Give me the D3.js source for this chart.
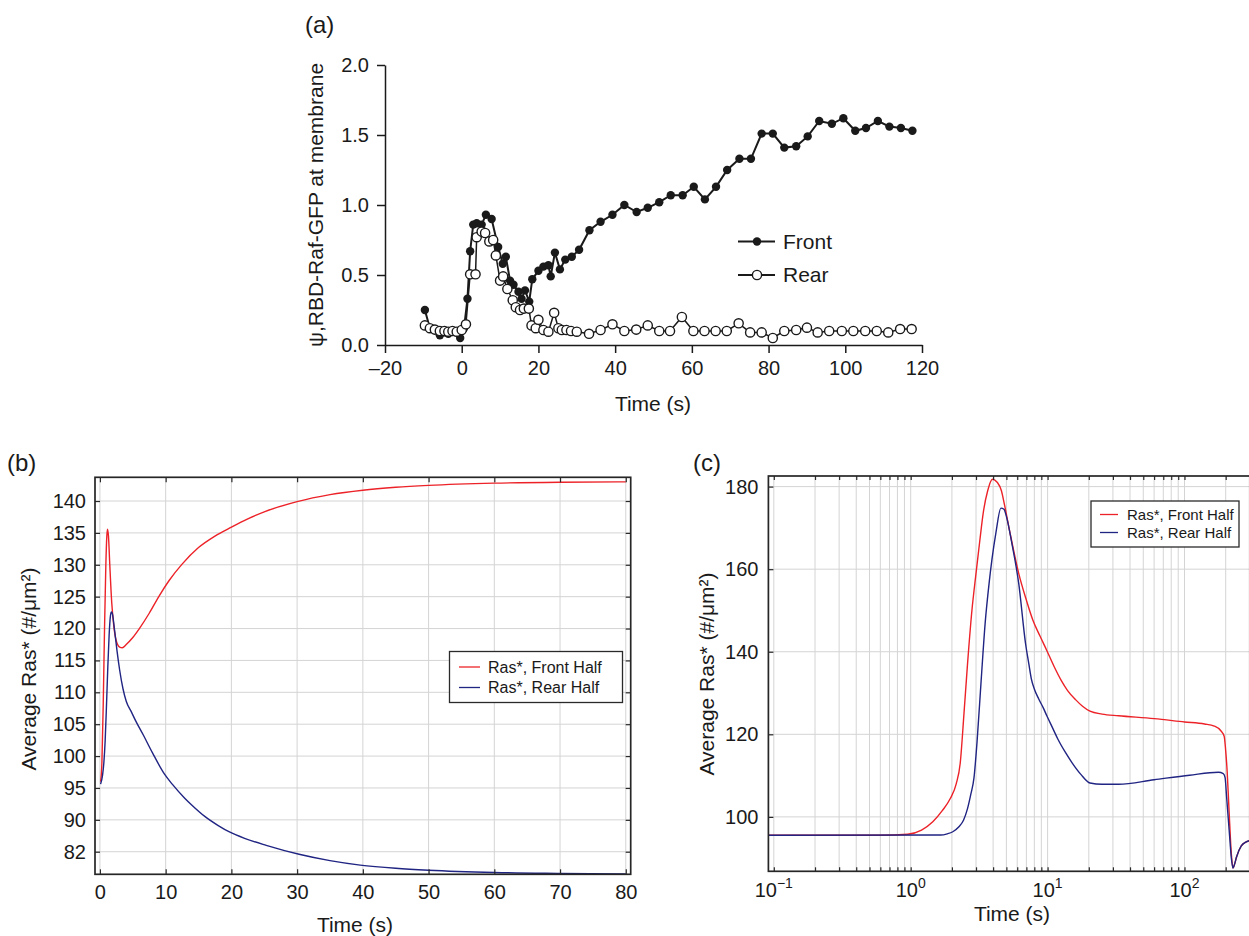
<!DOCTYPE html>
<html>
<head>
<meta charset="utf-8">
<script src="https://cdn.jsdelivr.net/npm/d3@7"></script>
<style>
  body { margin: 0; background: #fff; }
  svg { display: block; font-family: 'Liberation Sans', Arial, Helvetica, sans-serif; }
</style>
</head>
<body>
<div id="fig"></div>
<script>
// ---------- panel (a): RBD-Raf-GFP at membrane ----------
const frontTime = [-9.6, -8.3, -7.0, -5.7, -4.5, -3.5, -2.4, -1.3, -0.4, 0.6, 1.5, 2.2, 3.0, 3.9, 5.2, 6.3, 7.8, 9.5, 10.7, 11.5,
  12.6, 13.5, 14.8, 15.6, 16.5, 17.6, 18.4, 20.0, 21.3, 22.6, 23.2, 24.3, 25.6, 27.0, 28.7, 30.6, 33.3, 36.2, 39.3, 42.4,
  45.6, 48.5, 51.5, 54.5, 57.6, 60.5, 63.4, 66.3, 69.2, 72.4, 75.4, 78.2, 81.1, 84.1, 87.2, 90.2, 93.2, 96.5, 99.5, 102.6,
  105.4, 108.5, 111.5, 114.5, 117.5];
const frontValue = [0.25, 0.12, 0.11, 0.07, 0.09, 0.08, 0.10, 0.09, 0.05, 0.12, 0.33, 0.67, 0.86, 0.87, 0.86, 0.93, 0.90, 0.70, 0.58, 0.63,
  0.46, 0.43, 0.38, 0.33, 0.39, 0.31, 0.47, 0.53, 0.56, 0.57, 0.49, 0.66, 0.54, 0.61, 0.63, 0.68, 0.82, 0.88, 0.93, 1.00,
  0.95, 0.98, 1.02, 1.07, 1.07, 1.13, 1.04, 1.13, 1.25, 1.33, 1.33, 1.51, 1.51, 1.41, 1.42, 1.49, 1.60, 1.58, 1.62, 1.53,
  1.55, 1.60, 1.56, 1.55, 1.53];
const rearTime = [-9.6, -8.3, -7.0, -5.7, -4.5, -3.5, -2.4, -1.3, 0.0, 1.1, 2.2, 3.6, 3.9, 5.2, 6.1, 7.2, 8.2, 8.9, 10.0, 10.8,
  11.9, 13.3, 14.1, 15.2, 16.2, 17.5, 18.2, 19.3, 20.0, 21.3, 22.6, 24.1, 25.2, 26.1, 27.3, 28.5, 30.0, 33.2, 36.2, 39.3,
  42.4, 45.5, 48.5, 51.5, 54.3, 57.4, 60.4, 63.3, 66.2, 69.1, 72.2, 75.2, 78.2, 81.1, 84.1, 87.2, 90.0, 92.8, 95.8, 99.1,
  102.1, 105.2, 108.2, 111.2, 114.3, 117.3];
const rearValue = [0.14, 0.12, 0.11, 0.10, 0.10, 0.095, 0.10, 0.095, 0.107, 0.148, 0.505, 0.505, 0.77, 0.81, 0.80, 0.74, 0.75, 0.64, 0.46, 0.49,
  0.40, 0.32, 0.27, 0.25, 0.26, 0.26, 0.14, 0.12, 0.18, 0.107, 0.095, 0.23, 0.12, 0.107, 0.107, 0.10, 0.095, 0.08, 0.107, 0.148,
  0.10, 0.11, 0.14, 0.10, 0.10, 0.20, 0.10, 0.10, 0.10, 0.10, 0.155, 0.09, 0.09, 0.05, 0.10, 0.107, 0.124, 0.09, 0.10, 0.10,
  0.10, 0.10, 0.10, 0.09, 0.114, 0.114];
const aXTicks = [-20, 0, 20, 40, 60, 80, 100, 120];
const aYTicks = [0, 0.5, 1.0, 1.5, 2.0];
const aLegend = ["Front", "Rear"];

// ---------- panel (b): linear time ----------
const bFrontTime = [0.1, 0.3, 0.5, 0.7, 0.9, 1.05, 1.15, 1.3, 1.5, 1.8, 2.1, 2.5, 3.0, 3.4, 4.0, 5.0, 6.0, 7.5, 9.0, 10.5,
  12.5, 15, 17.5, 20, 22.5, 25, 30, 35, 40, 45, 50, 60, 70, 80];
const bFrontRas = [96, 99, 108, 120, 130, 134.5, 135.6, 134.5, 130, 124, 120.5, 118, 117.1, 117, 117.5, 118.6, 120.0, 122.4, 125.1, 127.5,
  130.1, 132.7, 134.5, 135.9, 137.2, 138.3, 139.9, 141.0, 141.7, 142.15, 142.45, 142.8, 142.95, 143];
const bRearTime = [0.1, 0.4, 0.6, 0.8, 1.0, 1.2, 1.4, 1.6, 1.75, 1.9, 2.2, 2.6, 3.0, 3.5, 4.0, 4.8, 5.5, 6.6, 8.0, 9.8,
  11, 12.9, 14, 16, 18, 19.7, 22, 25.3, 30.3, 35, 39.6, 45, 50, 60, 70, 80];
const bRearRas = [95.6, 97, 99, 102.5, 108, 114, 119, 122, 122.6, 122.3, 120, 116.5, 113.5, 110.6, 108.6, 106.9, 105.4, 103.3, 100.5, 97.2,
  95.6, 93.4, 92.3, 90.5, 89.1, 88.1, 87.1, 86, 84.6, 83.6, 82.9, 82.4, 82.1, 81.75, 81.6, 81.5];
const bXTicks = [0, 10, 20, 30, 40, 50, 60, 70, 80];
const bYTicks = [85, 90, 95, 100, 105, 110, 115, 120, 125, 130, 135, 140];
const bYTickLabels = ["82", "90", "95", "100", "105", "110", "115", "120", "125", "130", "135", "140"];

// ---------- panel (c): log time ----------
const cFrontTime = [0.0913, 0.6, 0.95, 1.2, 1.45, 1.7, 1.95, 2.15, 2.3, 2.45, 2.6, 2.8, 3.0, 3.2, 3.4, 3.65, 3.95, 4.3, 4.6, 4.85,
  5.3, 6.15, 7.0, 7.8, 8.8, 9.9, 11.2, 12.6, 14, 16, 18, 20.4, 25, 33, 60, 100, 140, 165, 185, 195,
  200, 205, 212, 220, 226, 232, 240, 260, 280, 300];
const cFrontRas = [95.55, 95.55, 95.8, 96.8, 98.8, 101.5, 104.5, 108, 113, 125, 137, 150, 159, 167, 174, 179, 181.8, 181, 179, 175.5,
  169, 159, 152.5, 147.7, 143.8, 140.2, 136.3, 133, 130.6, 128.4, 126.8, 125.6, 124.9, 124.5, 123.8, 123, 122.5, 122, 120.8, 119.5,
  116, 111, 101, 91, 87.6, 88.5, 90.3, 93, 93.9, 94.3];
const cRearTime = [0.0913, 1.65, 1.85, 2.03, 2.25, 2.43, 2.6, 2.75, 2.9, 3.05, 3.27, 3.5, 3.75, 3.92, 4.2, 4.56, 4.8, 5.0, 5.5, 6.15,
  6.9, 7.3, 7.6, 8.0, 8.6, 9.3, 9.93, 11, 11.9, 13.5, 15.1, 17.5, 20.4, 25, 33, 60, 109, 177, 192, 198,
  203, 212, 220, 226, 232, 240, 260, 280, 300];
const cRearRas = [95.55, 95.6, 95.9, 96.4, 97.6, 99.2, 102, 105.5, 109.5, 118, 133, 147, 157, 162.3, 169, 174.8, 174.5, 172.8, 166, 156.6,
  142, 137, 133.5, 131, 128.6, 126.4, 124.3, 121.2, 118.8, 115.6, 113.1, 110.3, 108.2, 107.9, 107.9, 109, 110.1, 110.8, 110.5, 109.5,
  104.9, 96.8, 90, 87.6, 88.5, 90.3, 93, 93.9, 94.3];
const cYTicks = [100, 120, 140, 160, 180];
const cXTickExponents = [-1, 0, 1, 2];
const cXTickLabels = ["\u22121", "0", "1", "2"];

const rasLegend = ["Ras*, Front Half", "Ras*, Rear Half"];
const rasColors = ["#ec2228", "#202482"];

const ink = "#1a1a1a";
const gridColor = "#d4d4d4";

const svg = d3.select("#fig").append("svg")
  .attr("width", 1249)
  .attr("height", 936);

svg.append("rect").attr("width", 1249).attr("height", 936).attr("fill", "#fff");

function toPoints(ts, vs) {
  return ts.map((t, i) => ({ t: t, v: vs[i] }));
}

// Panel (a)
function drawPanelA() {
  const x = d3.scaleLinear().domain([-20, 120]).range([385, 922]);
  const y = d3.scaleLinear().domain([0, 2]).range([345, 65]);
  const g = svg.append("g");

  const xAxis = g.append("g")
    .attr("transform", "translate(0,345)")
    .call(d3.axisBottom(x).tickValues(aXTicks).tickSize(8).tickSizeOuter(0).tickPadding(8)
      .tickFormat(d => d < 0 ? "\u2013" + Math.abs(d) : d));
  const yAxis = g.append("g")
    .attr("transform", "translate(385,0)")
    .call(d3.axisLeft(y).tickValues(aYTicks).tickSize(8).tickSizeOuter(0).tickPadding(8)
      .tickFormat(d3.format(".1f")));

  [xAxis, yAxis].forEach(ax => {
    ax.attr("font-family", null).attr("font-size", 20);
    ax.selectAll(".domain, .tick line").attr("stroke", ink).attr("stroke-width", 1.5);
    ax.selectAll(".tick text").attr("fill", ink);
  });

  const line = d3.line().x(d => x(d.t)).y(d => y(d.v));
  const front = toPoints(frontTime, frontValue);
  const rear = toPoints(rearTime, rearValue);

  // front series (filled markers)
  g.append("path").datum(front)
    .attr("d", line).attr("fill", "none").attr("stroke", ink).attr("stroke-width", 2);
  g.append("g").selectAll("circle").data(front).join("circle")
    .attr("cx", d => x(d.t)).attr("cy", d => y(d.v)).attr("r", 4.2).attr("fill", ink);

  // rear series (open markers) drawn on top
  g.append("path").datum(rear)
    .attr("d", line).attr("fill", "none").attr("stroke", ink).attr("stroke-width", 1.5);
  g.append("g").selectAll("circle").data(rear).join("circle")
    .attr("cx", d => x(d.t)).attr("cy", d => y(d.v)).attr("r", 4.6)
    .attr("fill", "#fff").attr("stroke", ink).attr("stroke-width", 1.4);

  // legend
  const legend = g.append("g");
  aLegend.forEach((name, i) => {
    const ly = 241.5 + i * 33.5;
    legend.append("line").attr("x1", 738).attr("x2", 775).attr("y1", ly).attr("y2", ly)
      .attr("stroke", ink).attr("stroke-width", 1.8);
    legend.append("circle").attr("cx", 757).attr("cy", ly).attr("r", i === 0 ? 4.2 : 4.6)
      .attr("fill", i === 0 ? ink : "#fff").attr("stroke", ink).attr("stroke-width", i === 0 ? 0 : 1.4);
    legend.append("text").attr("x", 783).attr("y", ly).attr("dy", "0.35em")
      .attr("font-size", 21).attr("fill", ink).text(name);
  });

  // labels
  g.append("text").attr("x", 653).attr("y", 411).attr("text-anchor", "middle")
    .attr("font-size", 21).attr("fill", ink).text("Time (s)");
  g.append("text").attr("transform", "translate(316,205) rotate(-90)")
    .attr("text-anchor", "middle").attr("dy", "0.35em")
    .attr("font-size", 21).attr("fill", ink).text("\u03c8,RBD-Raf-GFP at membrane");
  g.append("text").attr("x", 305).attr("y", 33)
    .attr("font-size", 24).attr("fill", ink).text("(a)");
}

// Shared pieces for the boxed simulation panels
function drawRasCurves(g, x, y, clipId, series) {
  const line = d3.line().x(d => x(d.t)).y(d => y(d.v)).curve(d3.curveMonotoneX);
  series.forEach((s, i) => {
    g.append("path").datum(s)
      .attr("clip-path", `url(#${clipId})`)
      .attr("d", line).attr("fill", "none")
      .attr("stroke", rasColors[i]).attr("stroke-width", 1.4);
  });
}

function drawRasLegend(g, box, fontSize, rowY, lineX, textX) {
  g.append("rect").attr("x", box.x).attr("y", box.y).attr("width", box.w).attr("height", box.h)
    .attr("fill", "#fff").attr("stroke", "#2a2a2a").attr("stroke-width", 1.3);
  rasLegend.forEach((name, i) => {
    g.append("line").attr("x1", lineX[0]).attr("x2", lineX[1]).attr("y1", rowY[i]).attr("y2", rowY[i])
      .attr("stroke", rasColors[i]).attr("stroke-width", 1.3);
    g.append("text").attr("x", textX).attr("y", rowY[i]).attr("dy", "0.35em")
      .attr("font-size", fontSize).attr("fill", ink).text(name);
  });
}

function styleAxis(ax) {
  ax.attr("font-family", null).attr("font-size", 20);
  ax.select(".domain").remove();
  ax.selectAll(".tick line").attr("stroke", "#2a2a2a").attr("stroke-width", 1.2);
  ax.selectAll(".tick text").attr("fill", ink);
}

// Panel (b)
function drawPanelB() {
  const left = 95, right = 630.7, top = 477.3, bottom = 874.3;
  const x = d3.scaleLinear().domain([-0.75, 80.75]).range([left, right]);
  const y = d3.scaleLinear().domain([81.46, 143.72]).range([bottom, top]);
  const g = svg.append("g");

  g.append("clipPath").attr("id", "clipB").append("rect")
    .attr("x", left).attr("y", top).attr("width", right - left).attr("height", bottom - top);

  // grid
  g.append("g").selectAll("line").data(bXTicks).join("line")
    .attr("x1", d => x(d)).attr("x2", d => x(d)).attr("y1", top).attr("y2", bottom)
    .attr("stroke", gridColor).attr("stroke-width", 1);
  g.append("g").selectAll("line").data(bYTicks).join("line")
    .attr("x1", left).attr("x2", right).attr("y1", d => y(d)).attr("y2", d => y(d))
    .attr("stroke", gridColor).attr("stroke-width", 1);

  drawRasCurves(g, x, y, "clipB", [toPoints(bFrontTime, bFrontRas), toPoints(bRearTime, bRearRas)]);

  // axes with inward ticks
  styleAxis(g.append("g").attr("transform", `translate(0,${bottom})`)
    .call(d3.axisBottom(x).tickValues(bXTicks).tickSize(-5).tickPadding(11)));
  styleAxis(g.append("g").attr("transform", `translate(0,${top})`)
    .call(d3.axisTop(x).tickValues(bXTicks).tickSize(-5).tickFormat("")));
  styleAxis(g.append("g").attr("transform", `translate(${left},0)`)
    .call(d3.axisLeft(y).tickValues(bYTicks).tickSize(-5).tickPadding(9)
      .tickFormat((d, i) => bYTickLabels[i])));
  styleAxis(g.append("g").attr("transform", `translate(${right},0)`)
    .call(d3.axisRight(y).tickValues(bYTicks).tickSize(-5).tickFormat("")));

  g.append("rect").attr("x", left).attr("y", top).attr("width", right - left).attr("height", bottom - top)
    .attr("fill", "none").attr("stroke", "#262626").attr("stroke-width", 1.7);

  drawRasLegend(g, { x: 449.5, y: 651.5, w: 173, h: 51 }, 16, [667, 687.5], [459, 480], 488);

  g.append("text").attr("x", 355).attr("y", 932).attr("text-anchor", "middle")
    .attr("font-size", 21).attr("fill", ink).text("Time (s)");
  g.append("text").attr("transform", "translate(29,669) rotate(-90)")
    .attr("text-anchor", "middle").attr("dy", "0.35em")
    .attr("font-size", 21).attr("fill", ink)
    .text("Average Ras* (#/\u03bcm\u00b2)");
  g.append("text").attr("x", 7).attr("y", 471)
    .attr("font-size", 24).attr("fill", ink).text("(b)");
}

// Panel (c)
function drawPanelC() {
  const left = 768.4, right = 1249.8, top = 476, bottom = 871.3;
  const x = d3.scaleLog().domain([0.0913, 300]).range([left, right]);
  const y = d3.scaleLinear().domain([86.82, 182.57]).range([bottom, top]);
  const g = svg.append("g");

  g.append("clipPath").attr("id", "clipC").append("rect")
    .attr("x", left).attr("y", top).attr("width", right - left).attr("height", bottom - top);

  // every 1..9 x 10^k line of the log grid
  const logGrid = [];
  d3.range(-1, 3).forEach(k => d3.range(1, 10).forEach(m => {
    const v = m * Math.pow(10, k);
    if (v <= 300) logGrid.push(v);
  }));

  g.append("g").selectAll("line").data(logGrid).join("line")
    .attr("x1", d => x(d)).attr("x2", d => x(d)).attr("y1", top).attr("y2", bottom)
    .attr("stroke", gridColor).attr("stroke-width", 1);
  g.append("g").selectAll("line").data(cYTicks).join("line")
    .attr("x1", left).attr("x2", right).attr("y1", d => y(d)).attr("y2", d => y(d))
    .attr("stroke", gridColor).attr("stroke-width", 1);

  drawRasCurves(g, x, y, "clipC", [toPoints(cFrontTime, cFrontRas), toPoints(cRearTime, cRearRas)]);

  styleAxis(g.append("g").attr("transform", `translate(0,${bottom})`)
    .call(d3.axisBottom(x).tickValues(logGrid).tickSize(-4).tickFormat("")));
  styleAxis(g.append("g").attr("transform", `translate(0,${top})`)
    .call(d3.axisTop(x).tickValues(logGrid).tickSize(-4).tickFormat("")));
  styleAxis(g.append("g").attr("transform", `translate(${left},0)`)
    .call(d3.axisLeft(y).tickValues(cYTicks).tickSize(-5).tickPadding(10)));

  // decade labels with superscript exponents
  const labels = g.append("g").selectAll("text").data(cXTickExponents).join("text")
    .attr("x", d => x(Math.pow(10, d))).attr("y", 897)
    .attr("text-anchor", "middle").attr("font-size", 20).attr("fill", ink);
  labels.append("tspan").text("10");
  labels.append("tspan").attr("dy", -9).attr("font-size", 14).text((d, i) => cXTickLabels[i]);

  g.append("rect").attr("x", left).attr("y", top).attr("width", right - left).attr("height", bottom - top)
    .attr("fill", "none").attr("stroke", "#262626").attr("stroke-width", 1.7);

  drawRasLegend(g, { x: 1091, y: 501, w: 148, h: 46 }, 15, [514.5, 532.5], [1100, 1118], 1127);

  g.append("text").attr("x", 1012).attr("y", 921).attr("text-anchor", "middle")
    .attr("font-size", 21).attr("fill", ink).text("Time (s)");
  g.append("text").attr("transform", "translate(707,674) rotate(-90)")
    .attr("text-anchor", "middle").attr("dy", "0.35em")
    .attr("font-size", 21).attr("fill", ink)
    .text("Average Ras* (#/\u03bcm\u00b2)");
  g.append("text").attr("x", 693).attr("y", 471)
    .attr("font-size", 24).attr("fill", ink).text("(c)");
}

drawPanelA();
drawPanelB();
drawPanelC();
</script>
</body>
</html>
